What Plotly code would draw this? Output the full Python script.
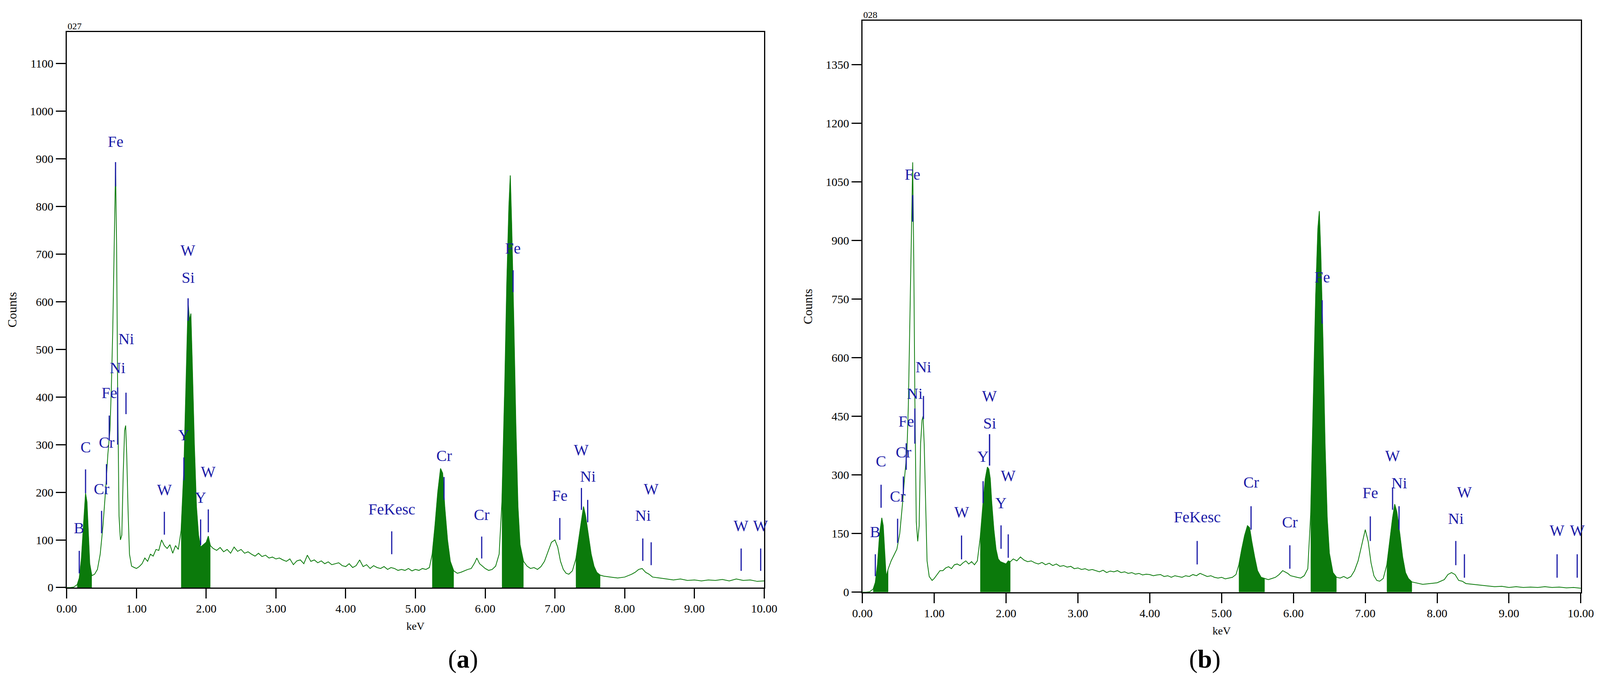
import plotly.graph_objects as go

energy_a = [0.00,0.05,0.10,0.15,0.18,0.21,0.24,0.27,0.29,0.31,0.33,0.36,0.40,0.44,0.48,0.52,0.56,0.59,0.62,0.64,0.66,0.68,0.70,0.715,0.73,0.75,0.77,0.79,0.81,0.83,0.845,0.86,0.88,0.90,0.93,0.97,1.00,1.04,1.08,1.12,1.16,1.20,1.24,1.28,1.32,1.36,1.40,1.44,1.48,1.52,1.56,1.60,1.64,1.68,1.71,1.74,1.76,1.78,1.80,1.83,1.86,1.89,1.92,1.96,2.00,2.03,2.06,2.10,2.15,2.20,2.25,2.30,2.35,2.40,2.45,2.50,2.55,2.60,2.65,2.70,2.75,2.80,2.85,2.90,2.95,3.00,3.05,3.10,3.15,3.20,3.25,3.30,3.35,3.40,3.45,3.50,3.55,3.60,3.65,3.70,3.75,3.80,3.85,3.90,3.95,4.00,4.05,4.10,4.15,4.20,4.25,4.30,4.35,4.40,4.45,4.50,4.55,4.60,4.65,4.70,4.75,4.80,4.85,4.90,4.95,5.00,5.05,5.10,5.15,5.20,5.24,5.28,5.32,5.36,5.39,5.42,5.46,5.50,5.55,5.60,5.65,5.70,5.75,5.80,5.85,5.88,5.92,5.96,6.00,6.05,6.10,6.15,6.20,6.24,6.28,6.31,6.34,6.36,6.38,6.41,6.44,6.47,6.50,6.55,6.60,6.65,6.70,6.75,6.80,6.85,6.90,6.95,7.00,7.04,7.08,7.12,7.16,7.20,7.25,7.30,7.34,7.38,7.41,7.44,7.48,7.52,7.56,7.60,7.65,7.70,7.80,7.90,8.00,8.10,8.15,8.20,8.25,8.30,8.35,8.40,8.50,8.60,8.70,8.80,8.90,9.00,9.10,9.20,9.30,9.40,9.50,9.60,9.70,9.80,9.90,10.00]
counts_a = [0,0,1,6,20,60,130,198,180,110,50,25,28,38,70,130,210,280,330,420,540,710,880,720,420,150,100,110,240,330,340,280,160,70,45,42,40,44,50,62,55,70,66,80,78,100,88,82,90,72,88,80,120,250,420,600,560,575,470,300,170,110,85,90,95,108,88,82,78,84,75,80,72,85,76,80,72,75,70,66,72,65,68,62,64,60,62,58,55,60,48,56,58,50,68,55,58,52,56,50,54,48,50,52,46,44,50,42,46,58,44,48,40,46,42,40,44,38,42,40,36,38,36,40,35,38,36,40,38,42,70,130,200,250,240,170,100,55,35,30,32,35,38,40,52,62,50,45,40,36,38,45,70,180,420,640,800,865,760,560,340,170,90,55,45,40,42,38,44,55,75,95,100,85,55,38,30,28,35,60,100,140,170,150,110,70,45,32,26,24,22,20,22,28,32,38,40,32,28,22,20,18,16,18,15,16,14,16,15,17,14,18,15,16,13,14]

energy_b = energy_a
counts_b = [0,0,1,8,25,70,150,190,170,100,40,60,80,95,110,150,230,300,360,480,680,900,1100,850,500,180,130,170,380,440,450,380,220,80,40,30,35,45,55,55,62,65,60,70,72,68,75,80,72,78,70,80,140,230,290,320,315,290,230,160,110,85,78,75,72,80,78,85,80,90,82,78,80,75,72,76,70,74,68,72,66,68,64,66,60,62,58,60,56,58,55,52,56,50,54,52,55,50,52,48,50,46,48,44,46,45,42,44,45,40,42,38,42,40,38,42,40,45,42,48,44,40,42,38,36,38,34,36,38,45,70,110,145,170,165,130,90,55,38,35,32,35,38,45,55,52,48,42,40,38,36,42,60,200,520,760,930,975,870,650,380,190,100,50,38,36,40,35,40,55,80,120,160,130,75,42,30,28,35,70,130,190,225,205,150,90,50,35,26,24,20,22,24,32,45,50,45,30,28,22,20,18,16,14,15,12,14,12,13,12,14,12,13,11,12,10]

fill_windows_a = [(0.15,0.36),(1.64,2.06),(5.22,5.58),(6.22,6.58),(7.28,7.68)]
fill_windows_b = [(0.15,0.36),(1.64,2.06),(5.22,5.60),(6.22,6.60),(7.28,7.68)]

# element markers: label, energy, line bottom, line top, label y (counts)
labels_a = ["B","C","Cr","Cr","Fe","Fe","Ni","Ni","W","Y","W","Si","Y","W","FeKesc","Cr","Cr","Fe","Fe","W","Ni","Ni","W","W","W"]
marker_x_a = [0.18,0.27,0.50,0.57,0.61,0.70,0.73,0.85,1.40,1.68,1.74,1.74,1.92,2.03,4.66,5.41,5.95,6.40,7.07,7.38,7.47,8.26,8.38,9.67,9.95]
line_lo_a = [30,198,114,216,309,842,300,364,111,225,560,560,89,116,70,184,61,620,100,163,137,56,47,35,35]
line_hi_a = [77,248,161,259,361,893,420,409,159,273,607,607,143,164,118,232,107,666,146,209,184,103,95,82,82]
label_y_a = [125,295,207,305,409,936,461,522,205,320,708,651,189,243,164,277,153,712,193,289,233,151,207,130,130]

labels_b = ["B","C","Cr","Cr","Fe","Fe","Ni","Ni","W","Y","W","Si","Y","W","FeKesc","Cr","Cr","Fe","Fe","W","Ni","Ni","W","W","W"]
marker_x_b = [0.18,0.26,0.49,0.57,0.61,0.70,0.73,0.85,1.38,1.68,1.77,1.77,1.93,2.03,4.66,5.41,5.95,6.40,7.07,7.38,7.47,8.26,8.38,9.67,9.95]
line_lo_b = [41,216,126,250,313,948,380,443,84,228,324,324,111,88,71,160,60,687,131,211,160,69,37,37,37]
line_hi_b = [97,275,188,296,381,1016,470,502,145,284,404,404,171,148,131,220,120,747,194,268,220,131,97,97,97]
label_y_b = [154,335,245,358,437,1069,508,576,205,347,502,432,228,298,192,281,179,806,254,349,279,188,256,158,158]

spectrum_ids = ["027","028"]
panel_tags = ["a","b"]
y_ranges = [1166,1462]
y_dticks = [100,150]

GREEN = "#0b7a0b"
BLUE = "#1c1ca8"
FONT = "Liberation Serif"

fig = go.Figure()
panels = [
    (energy_a, counts_a, fill_windows_a, labels_a, marker_x_a, line_lo_a, line_hi_a, label_y_a, "x", "y"),
    (energy_b, counts_b, fill_windows_b, labels_b, marker_x_b, line_lo_b, line_hi_b, label_y_b, "x2", "y2"),
]
annotations = []
shapes = []
for i, (ex, cy, wins, labs, mx, lo, hi, ly, xa, ya) in enumerate(panels):
    fig.add_trace(go.Scatter(x=ex, y=cy, mode="lines", line=dict(color=GREEN, width=2),
                             xaxis=xa, yaxis=ya, showlegend=False))
    for (a, b) in wins:
        xs = [e for e in ex if a <= e <= b]
        ys = [c for e, c in zip(ex, cy) if a <= e <= b]
        fig.add_trace(go.Scatter(x=xs, y=ys, mode="lines", fill="tozeroy", fillcolor=GREEN,
                                 line=dict(color=GREEN, width=1), xaxis=xa, yaxis=ya, showlegend=False))
    for lab, x, l0, l1, yl in zip(labs, mx, lo, hi, ly):
        shapes.append(dict(type="line", xref=xa, yref=ya, x0=x, x1=x, y0=l0, y1=l1,
                           line=dict(color=BLUE, width=3)))
        annotations.append(dict(xref=xa, yref=ya, x=x, y=yl, text=lab, showarrow=False,
                                font=dict(family=FONT, size=40, color=BLUE), yanchor="middle"))

doms_x = [[0.0417, 0.4776], [0.539, 0.988]]
doms_y = [[0.1546, 0.9539], [0.148, 0.970]]
for i in range(2):
    annotations.append(dict(xref="paper", yref="paper", x=doms_x[i][0], y=doms_y[i][1],
                            text=spectrum_ids[i], showarrow=False, xanchor="left", yanchor="bottom",
                            font=dict(family=FONT, size=24, color="black")))
    annotations.append(dict(xref="paper", yref="paper", x=(doms_x[i][0]+doms_x[i][1])/2 + (0.02 if i == 0 else 0.0),
                            y=0.03, text="(<b>%s</b>)" % panel_tags[i], showarrow=False,
                            font=dict(family=FONT, size=66, color="black")))

axis_common = dict(showline=True, linecolor="black", linewidth=3, mirror=True, ticks="outside",
                   ticklen=25, tickwidth=3, tickcolor="black", showgrid=False, zeroline=False,
                   automargin=False, tickfont=dict(family=FONT, size=30, color="black"))
layout = dict(autosize=True, margin=dict(l=0, r=0, t=0, b=0),
              paper_bgcolor="white", plot_bgcolor="white",
              shapes=shapes, annotations=annotations)
for i in range(2):
    sx = "" if i == 0 else "2"
    layout["xaxis" + sx] = dict(axis_common, domain=doms_x[i], range=[0, 10], tickvals=list(range(11)),
                                tickformat=".2f", anchor="y" + sx,
                                title=dict(text="keV", font=dict(family=FONT, size=28, color="black"), standoff=20))
    layout["yaxis" + sx] = dict(axis_common, domain=doms_y[i], range=[0, y_ranges[i]], dtick=y_dticks[i],
                                anchor="x" + sx,
                                title=dict(text="Counts", font=dict(family=FONT, size=32, color="black"), standoff=25))
fig.update_layout(**layout)
post = ("document.documentElement.style.height='100%';document.body.style.margin='0';"
        "document.body.style.height='100%';document.body.style.overflow='hidden';"
        "var d=document.getElementsByClassName('plotly-graph-div')[0];"
        "d.style.width='100vw';d.style.height='100vh';Plotly.Plots.resize(d);")
fig.write_html("out.html", default_width="100vw", default_height="100vh",
               config={"responsive": True, "displayModeBar": False}, post_script=post)
